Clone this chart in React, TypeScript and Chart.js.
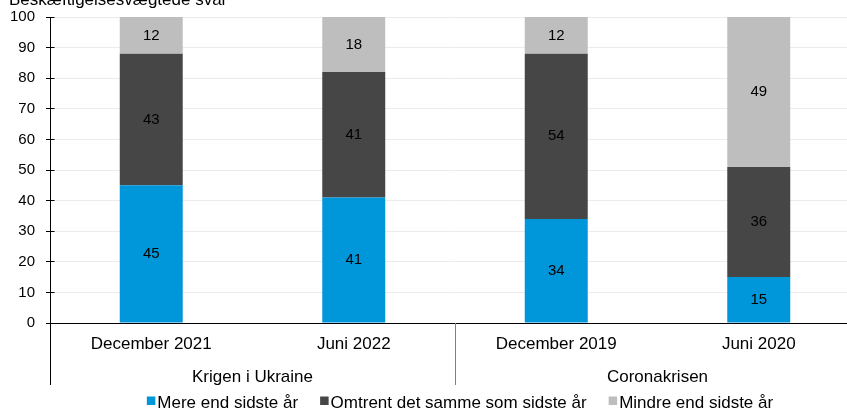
import React, { useEffect, useRef } from "react";
import { Chart, registerables } from "chart.js";

Chart.register(...registerables);

const yTitle = "Beskæftigelsesvægtede svar";
const categories = ["December 2021", "Juni 2022", "December 2019", "Juni 2020"];
const groups = ["Krigen i Ukraine", "Coronakrisen"];
const groupSpans = [2, 2];
const seriesNames = [
  "Mere end sidste år",
  "Omtrent det samme som sidste år",
  "Mindre end sidste år",
];
const mere = [45, 41, 34, 15];
const omtrent = [43, 41, 54, 36];
const mindre = [12, 18, 12, 49];
const yTicks = [0, 10, 20, 30, 40, 50, 60, 70, 80, 90, 100];

const seriesValues = [mere, omtrent, mindre];
const colors = ["#0096DA", "#464646", "#BEBEBE"];
const FONT = "'Liberation Sans', Arial, sans-serif";

const align = (p: number) => Math.round(p - 0.5) + 0.5;

const overlayPlugin = {
  id: "overlay",
  afterDraw(chart: any) {
    const ctx = chart.ctx as CanvasRenderingContext2D;
    const area = chart.chartArea;
    const ys = chart.scales.y;
    ctx.save();

    // data labels
    ctx.font = `15px ${FONT}`;
    ctx.fillStyle = "#000";
    ctx.textAlign = "center";
    ctx.textBaseline = "middle";
    seriesValues.forEach((vals, i) => {
      const meta = chart.getDatasetMeta(i);
      meta.data.forEach((el: any, j: number) => {
        const p = el.getProps(["x", "y", "base"], true);
        ctx.fillText(String(vals[j]), p.x, (p.y + p.base) / 2);
      });
    });

    // title (clipped at top)
    ctx.font = `17px ${FONT}`;
    ctx.textAlign = "left";
    ctx.textBaseline = "alphabetic";
    ctx.fillText(yTitle, 9, 5);

    // inner y ticks
    ctx.strokeStyle = "#000";
    ctx.lineWidth = 1;
    const ax = align(area.left);
    yTicks.forEach((v) => {
      const py = align(ys.getPixelForValue(v));
      ctx.beginPath();
      ctx.moveTo(ax, py);
      ctx.lineTo(ax + 4, py);
      ctx.stroke();
    });

    // axis extension
    const bottomExt = 385;
    ctx.beginPath();
    ctx.moveTo(ax, area.bottom);
    ctx.lineTo(ax, bottomExt);
    ctx.stroke();

    // group separators and labels
    const catW = (area.right - area.left) / categories.length;
    let cum = 0;
    ctx.font = `17px ${FONT}`;
    ctx.textAlign = "center";
    ctx.fillStyle = "#000";
    groups.forEach((g, gi) => {
      const start = cum;
      cum += groupSpans[gi];
      const cx = area.left + ((start + cum) / 2) * catW;
      ctx.fillText(g, cx, 382);
      if (gi < groups.length - 1) {
        const sx = align(area.left + cum * catW);
        ctx.strokeStyle = "#808080";
        ctx.beginPath();
        ctx.moveTo(sx, area.bottom);
        ctx.lineTo(sx, bottomExt);
        ctx.stroke();
      }
    });

    // legend
    ctx.font = `17px ${FONT}`;
    ctx.textAlign = "left";
    const box = 8.5;
    const gapText = 2;
    const gapItem = 22;
    const widths = seriesNames.map((n) => ctx.measureText(n).width);
    const total =
      widths.reduce((a, b) => a + b, 0) +
      seriesNames.length * (box + gapText) +
      (seriesNames.length - 1) * gapItem;
    let lx = 460 - total / 2;
    seriesNames.forEach((n, i) => {
      ctx.fillStyle = colors[i];
      ctx.fillRect(lx, 396.5, box, box);
      lx += box + gapText;
      ctx.fillStyle = "#000";
      ctx.fillText(n, lx, 407.5);
      lx += widths[i] + gapItem;
    });

    ctx.restore();
  },
};

export default function App() {
  const ref = useRef<HTMLCanvasElement>(null);

  useEffect(() => {
    if (!ref.current) return;
    const chart = new Chart(ref.current, {
      type: "bar",
      data: {
        labels: categories,
        datasets: seriesNames.map((name, i) => ({
          label: name,
          data: seriesValues[i],
          backgroundColor: colors[i],
          borderWidth: 0,
          stack: "s",
          categoryPercentage: 1,
          barPercentage: 0.311,
        })),
      },
      options: {
        responsive: false,
        animation: false,
        events: [],
        layout: { padding: { top: 17, left: 0, right: 0, bottom: 0 } },
        plugins: {
          legend: { display: false },
          title: { display: false },
          tooltip: { enabled: false },
        },
        scales: {
          x: {
            stacked: true,
            grid: { display: false, drawTicks: false },
            border: { display: true, color: "#000", width: 1 },
            ticks: {
              color: "#000",
              font: { family: FONT, size: 17 },
              padding: 11,
              maxRotation: 0,
              autoSkip: false,
            },
            afterFit: (s: any) => {
              s.height = 86;
              s.paddingLeft = 0;
              s.paddingRight = 0;
            },
          },
          y: {
            stacked: true,
            min: 0,
            max: 100,
            grid: {
              color: "#ebebeb",
              drawTicks: true,
              tickLength: 4,
              tickColor: "#000",
            },
            border: { display: true, color: "#000", width: 1 },
            ticks: {
              color: "#000",
              font: { family: FONT, size: 15 },
              padding: 11,
            },
            afterBuildTicks: (s: any) => {
              s.ticks = yTicks.map((v) => ({ value: v }));
            },
            afterFit: (s: any) => {
              s.width = 50;
              s.paddingTop = 0;
              s.paddingBottom = 0;
            },
          },
        },
      },
      plugins: [overlayPlugin],
    });
    return () => chart.destroy();
  }, []);

  return (
    <div
      style={{
        position: "absolute",
        left: 0,
        top: 0,
        width: 847,
        height: 409,
        overflow: "hidden",
        background: "#fff",
      }}
    >
      <canvas ref={ref} width={860} height={409} style={{ display: "block" }} />
    </div>
  );
}
